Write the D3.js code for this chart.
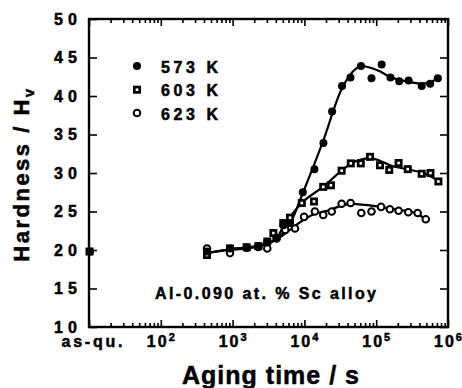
<!DOCTYPE html>
<html lang="en">
<head>
<meta charset="utf-8">
<title>Hardness vs aging time</title>
<script src="https://cdn.jsdelivr.net/npm/d3@7"></script>
<style>
body { margin: 0; background: #fff; }
text { font-family: "Liberation Sans", Arial, sans-serif; font-weight: bold; fill: #000; stroke: #000; stroke-width: 0.5; }
</style>
</head>
<body>
<div id="chart"></div>
<script>
var width = 462;
var height = 388;

// as-quenched hardness, plotted on the left axis
var asQuenched = 19.8;

// 573 K (filled circles)
var t573  = [440, 920, 1570, 2280, 3040, 4100, 5100, 6300, 9500, 13800, 18400, 24300, 33400, 43800, 61400, 86000, 119000, 158000, 209000, 283000, 430000, 565000, 722000];
var hv573 = [19.8, 20.2, 20.3, 20.5, 21.0, 21.6, 23.2, 23.5, 27.5, 30.5, 33.9, 38.0, 41.3, 42.4, 43.9, 42.3, 44.1, 42.4, 41.9, 42.0, 41.3, 41.6, 42.3];

// 603 K (squares)
var t603  = [440, 920, 1570, 2280, 3040, 3700, 5080, 6300, 9200, 13600, 18300, 23400, 33000, 44300, 61000, 82000, 113000, 152000, 205000, 275000, 430000, 570000, 735000];
var hv603 = [19.35, 20.2, 20.35, 20.5, 21.1, 22.2, 23.5, 24.2, 26.1, 26.3, 28.2, 28.4, 30.3, 31.25, 31.25, 32.1, 31.0, 30.4, 31.3, 30.5, 29.9, 30.0, 28.9];

// 623 K (open circles)
var t623  = [440, 920, 1570, 2280, 3040, 4100, 5400, 7400, 9900, 14000, 18300, 24000, 33000, 44000, 62000, 86000, 117000, 155000, 205000, 280000, 378000, 490000];
var hv623 = [20.2, 19.6, 20.3, 20.4, 20.2, 21.5, 22.6, 22.8, 24.3, 25.0, 24.55, 25.0, 26.0, 26.1, 24.8, 25.0, 25.6, 25.3, 25.1, 24.9, 24.8, 24.0];

// hand-drawn fit curves
var fitT573  = [440, 900, 2200, 4000, 6300, 9700, 18000, 33000, 53000, 62000, 81000, 112000, 155000, 263000, 447000, 562000, 733000];
var fitHv573 = [19.6, 20.1, 20.5, 21.4, 23.4, 27.6, 34.0, 40.9, 43.6, 43.9, 43.7, 43.2, 42.5, 41.9, 41.6, 41.8, 42.3];
var fitT603  = [440, 900, 2200, 4000, 5000, 6300, 9700, 18200, 33000, 44000, 81000, 112000, 155000, 263000, 447000, 735000];
var fitHv603 = [19.6, 20.1, 20.5, 21.4, 22.9, 24.3, 26.3, 28.2, 30.3, 31.2, 31.9, 31.6, 31.0, 30.5, 30.0, 29.0];
var fitT623  = [440, 900, 2200, 4000, 6300, 8700, 14000, 22700, 33400, 46000, 70000, 113000, 214000, 347000, 494000];
var fitHv623 = [19.6, 20.0, 20.4, 21.3, 22.6, 23.6, 24.7, 25.2, 25.8, 26.0, 25.85, 25.6, 25.2, 24.8, 24.0];

var yTicks = [10, 15, 20, 25, 30, 35, 40, 45, 50];
var xMajor = [10, 1e2, 1e3, 1e4, 1e5, 1e6];
var xLabels = ["as-qu.", "10", "10", "10", "10", "10"];
var xExps = ["", "2", "3", "4", "5", "6"];
var legendNames = ["573 K", "603 K", "623 K"];

var plotL = 89, plotR = 448, plotT = 19, plotB = 327;

var x = d3.scaleLog().domain([10, 1e6]).range([plotL, plotR]);
var y = d3.scaleLinear().domain([10, 50]).range([plotB, plotT]);

var svg = d3.select("#chart").append("svg")
    .attr("width", width)
    .attr("height", height);

var xMinor = x.ticks().filter(function(d) { return xMajor.indexOf(d) < 0; });

function ticks(axis, tx, ty) {
    var g = svg.append("g").attr("transform", "translate(" + tx + "," + ty + ")").call(axis);
    g.select(".domain").remove();
    g.selectAll("line").attr("stroke", "#000").attr("stroke-width", 1.6);
    return g;
}

ticks(d3.axisBottom(x).tickValues(xMinor).tickSize(-4).tickFormat(""), 0, plotB);
ticks(d3.axisBottom(x).tickValues(xMajor).tickSize(-7).tickFormat(""), 0, plotB);
ticks(d3.axisTop(x).tickValues(xMinor).tickSize(-4).tickFormat(""), 0, plotT);
ticks(d3.axisTop(x).tickValues(xMajor).tickSize(-7).tickFormat(""), 0, plotT);
ticks(d3.axisLeft(y).tickValues(yTicks).tickSize(-8).tickFormat(""), plotL, 0);
ticks(d3.axisRight(y).tickValues(yTicks).tickSize(-8).tickFormat(""), plotR, 0);

svg.append("rect")
    .attr("x", plotL).attr("y", plotT)
    .attr("width", plotR - plotL).attr("height", plotB - plotT)
    .attr("fill", "none").attr("stroke", "#000").attr("stroke-width", 2.4);

// y tick labels
svg.selectAll(".ylab").data(yTicks).enter().append("text")
    .attr("class", "ylab")
    .attr("x", 77)
    .attr("y", function(d) { return y(d) + 5.5; })
    .attr("text-anchor", "end")
    .attr("font-size", 16)
    .attr("textLength", 23)
    .attr("lengthAdjust", "spacing")
    .text(function(d) { return d; });

// x tick labels
xMajor.forEach(function(v, i) {
    var t = svg.append("text")
        .attr("x", x(v) + (i == 0 ? 3 : 0))
        .attr("y", 347)
        .attr("text-anchor", "middle")
        .attr("font-size", 16);
    if (i == 0) {
        t.attr("textLength", 61).attr("lengthAdjust", "spacing").text(xLabels[i]);
    } else {
        t.append("tspan").attr("letter-spacing", 2).text(xLabels[i]);
        t.append("tspan").attr("font-size", 11).attr("dy", -6).text(xExps[i]);
    }
});

// axis titles
svg.append("text")
    .attr("x", 271).attr("y", 384)
    .attr("text-anchor", "middle")
    .attr("font-size", 25)
    .attr("letter-spacing", 1)
    .text("Aging time / s");

var yt = svg.append("text")
    .attr("transform", "translate(29,174) rotate(-90)")
    .attr("text-anchor", "middle")
    .attr("font-size", 22)
    .attr("letter-spacing", 2.5);
yt.append("tspan").text("Hardness / H");
yt.append("tspan").attr("font-size", 15).attr("dy", 5).text("v");

// alloy note
svg.append("text")
    .attr("x", 155).attr("y", 299)
    .attr("font-size", 16)
    .attr("textLength", 221)
    .attr("lengthAdjust", "spacing")
    .text("Al-0.090 at. % Sc alloy");

// fit lines
var line = d3.line()
    .x(function(d) { return x(d[0]); })
    .y(function(d) { return y(d[1]); })
    .curve(d3.curveMonotoneX);

[[fitT573, fitHv573], [fitT603, fitHv603], [fitT623, fitHv623]].forEach(function(s) {
    svg.append("path")
        .datum(d3.zip(s[0], s[1]))
        .attr("d", line)
        .attr("fill", "none")
        .attr("stroke", "#000")
        .attr("stroke-width", 2.2);
});

function square(g, cx, cy) {
    g.append("rect")
        .attr("x", cx - 4).attr("y", cy - 4)
        .attr("width", 8).attr("height", 8)
        .attr("fill", "#000");
    g.append("rect")
        .attr("x", cx - 1.3).attr("y", cy - 1.3)
        .attr("width", 2.6).attr("height", 2.6)
        .attr("fill", "#fff");
}
function openCirc(g, cx, cy) {
    g.append("circle").attr("cx", cx).attr("cy", cy).attr("r", 3.3)
        .attr("fill", "#fff").attr("stroke", "#000").attr("stroke-width", 2);
}
function filledCirc(g, cx, cy) {
    g.append("circle").attr("cx", cx).attr("cy", cy).attr("r", 4).attr("fill", "#000");
}

var pts = svg.append("g");
d3.zip(t603, hv603).forEach(function(d) { square(pts, x(d[0]), y(d[1])); });
d3.zip(t623, hv623).forEach(function(d) { openCirc(pts, x(d[0]), y(d[1])); });
d3.zip(t573, hv573).forEach(function(d) { filledCirc(pts, x(d[0]), y(d[1])); });

// as-quenched point on the axis
pts.append("rect")
    .attr("x", plotL - 3.5).attr("y", y(asQuenched) - 4)
    .attr("width", 8).attr("height", 8).attr("fill", "#000");
filledCirc(pts, plotL + 1, y(asQuenched));

// legend
var legY = [66, 89.7, 113];
var markers = [filledCirc, square, openCirc];
legendNames.forEach(function(name, i) {
    markers[i](svg, 137, legY[i]);
    svg.append("text")
        .attr("x", 161).attr("y", legY[i] + 6.5)
        .attr("font-size", 16)
        .attr("textLength", 57)
        .attr("lengthAdjust", "spacing")
        .text(name);
});
</script>
</body>
</html>
